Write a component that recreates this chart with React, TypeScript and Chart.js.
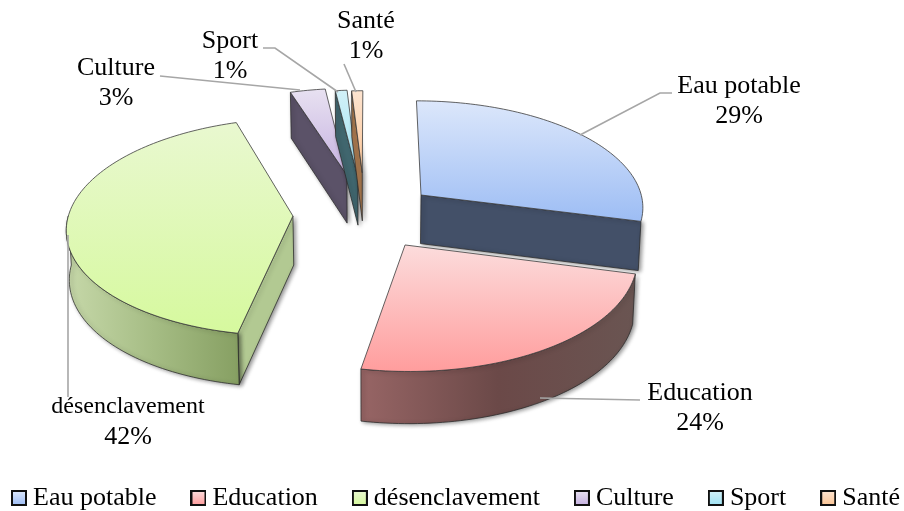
import React, { useEffect, useRef } from "react";
import { Chart, registerables } from "chart.js";

Chart.register(...registerables);

const categories = ["Eau potable", "Education", "désenclavement", "Culture", "Sport", "Santé"];
const shares = [29, 24, 42, 3, 1, 1];

// Exploded position of each slice on the pie plane, in radius units.
const explodeX = [0.2316, 0.152, -0.343, -0.107, -0.056, -0.036];
const explodeY = [-0.171, 0.29, 0.028, -0.368, -0.348, -0.39];
const radiusScale = [1, 1, 1, 0.95, 0.95, 0.9];

const topLight = ["#dce7fb", "#fcdcdc", "#e9f8d0", "#e8e1f1", "#d2f1f8", "#fde4d0"];
const topDark = ["#9dbdf4", "#ff9d9d", "#d6f99e", "#c5b1e0", "#9fe2f3", "#fbc596"];
const rimLeft = ["#46536c", "#976565", "#c6d8a9", "#5f5566", "#41676f", "#a9794f"];
const rimMid = ["#435068", "#6b4948", "#a6bd85", "#5b5268", "#41676f", "#a9794f"];
const rimRight = ["#435068", "#6a5552", "#87a063", "#5b5268", "#41676f", "#a9794f"];
const sideColor = ["#435068", "#6a4a49", "#b2c992", "#5b5268", "#41676f", "#a9794f"];

// Fixed camera of the 3-D view.
const CAMERA = { cx: 370, cy: 213, rx: 224, ry: 107, persp: 0.1, depth: 49, taper: 0.99 };

// Data-label annotations: text centre, size and the leader line.
const labelX = [739, 700, 128, 116, 230, 366];
const labelY = [86, 393, 407, 68, 41, 21];
const labelSize = [26, 26, 24, 26, 26, 26];
const leaderLines = [
  [[580, 135], [660, 93], [672, 93]],
  [[540, 398], [640, 400]],
  [[68, 235], [68, 397]],
  [[160, 76], [300, 90]],
  [[263, 48], [275, 48], [338, 92]],
  [[344, 64], [356, 92]],
];

const FONT = '"Liberation Serif", "Times New Roman", serif';
const LEGEND_START_X = 18;
const LEGEND_SHIFT_Y = 10;
const MIN_RIM_SPAN = 0.3;

function projectPlane(X: number, Y: number) {
  const w = 1 - CAMERA.persp * Y;
  return { x: CAMERA.cx + (CAMERA.rx * X) / w, y: CAMERA.cy + (CAMERA.ry * Y) / w };
}

function sliceProjector(el: any, i: number) {
  const k = radiusScale[i] / el.outerRadius;
  return (px: number, py: number) => projectPlane((px - el.x) * k + explodeX[i], (py - el.y) * k + explodeY[i]);
}

function projectedContext(ctx: any, project: (x: number, y: number) => { x: number; y: number }, fill: any) {
  return new Proxy(ctx, {
    get(t, p) {
      if (p === "moveTo" || p === "lineTo") {
        return (x: number, y: number) => {
          const q = project(x, y);
          t[p](q.x, q.y);
        };
      }
      if (p === "arc") {
        return (x: number, y: number, r: number, a0: number, a1: number) => {
          const n = Math.max(1, Math.ceil(Math.abs(a1 - a0) * 40));
          for (let k = 0; k <= n; k++) {
            const a = a0 + ((a1 - a0) * k) / n;
            const q = project(x + r * Math.cos(a), y + r * Math.sin(a));
            t.lineTo(q.x, q.y);
          }
        };
      }
      const v = t[p];
      return typeof v === "function" ? v.bind(t) : v;
    },
    set(t, p, v) {
      t[p] = p === "fillStyle" ? fill : v;
      return true;
    },
  });
}

function depthAt(Y: number) {
  return CAMERA.depth * (1 + 0.05 * Y);
}

function wallPath(ctx: any, pts: { x: number; y: number; d: number }[]) {
  ctx.beginPath();
  pts.forEach((q, k) => (k ? ctx.lineTo(q.x, q.y) : ctx.moveTo(q.x, q.y)));
  for (let k = pts.length - 1; k >= 0; k--) {
    ctx.lineTo(CAMERA.cx + (pts[k].x - CAMERA.cx) * CAMERA.taper, pts[k].y + pts[k].d);
  }
  ctx.closePath();
}

function drawWalls(ctx: any, el: any, i: number) {
  const s = el.startAngle;
  const e = el.endAngle;
  const plane = (a: number, r: number) => {
    const Y = r * radiusScale[i] * Math.sin(a) + explodeY[i];
    const q = projectPlane(r * radiusScale[i] * Math.cos(a) + explodeX[i], Y);
    return { x: q.x, y: q.y, d: depthAt(Y) };
  };
  ctx.save();
  ctx.shadowColor = "rgba(0,0,0,0.45)";
  ctx.shadowBlur = 4;
  ctx.shadowOffsetX = 2;
  ctx.shadowOffsetY = 1;
  ctx.strokeStyle = "rgba(40,40,40,0.75)";
  ctx.lineWidth = 1;
  const radial = (a: number) => {
    wallPath(ctx, [plane(a, 0), plane(a, 1)]);
    ctx.fillStyle = sideColor[i];
    ctx.fill();
    ctx.stroke();
  };
  // a radial face looks at the viewer only on one side of the pie
  if (Math.cos(s) < -1e-3) radial(s);
  if (Math.cos(e) > 1e-3) radial(e);
  const from = Math.max(s, 0);
  const to = Math.min(e, Math.PI);
  if (to - from > MIN_RIM_SPAN) {
    const pts: { x: number; y: number; d: number }[] = [];
    const n = Math.ceil((to - from) * 40);
    for (let k = 0; k <= n; k++) pts.push(plane(from + ((to - from) * k) / n, 1));
    const xs = pts.map((q) => q.x);
    const g = ctx.createLinearGradient(Math.min(...xs), 0, Math.max(...xs), 0);
    g.addColorStop(0, rimLeft[i]);
    g.addColorStop(0.5, rimMid[i]);
    g.addColorStop(1, rimRight[i]);
    wallPath(ctx, pts);
    ctx.fillStyle = g;
    ctx.fill();
    ctx.stroke();
  }
  ctx.restore();
}

function topGradient(ctx: any, el: any, i: number) {
  const project = sliceProjector(el, i);
  const ys = [project(el.x, el.y).y];
  const n = 40;
  for (let k = 0; k <= n; k++) {
    const a = el.startAngle + ((el.endAngle - el.startAngle) * k) / n;
    ys.push(project(el.x + el.outerRadius * Math.cos(a), el.y + el.outerRadius * Math.sin(a)).y);
  }
  const g = ctx.createLinearGradient(0, Math.min(...ys), 0, Math.max(...ys));
  g.addColorStop(0, topLight[i]);
  g.addColorStop(1, topDark[i]);
  return g;
}

const pie3d = {
  id: "pie3d",
  beforeLayout(chart: any) {
    // the legend is as wide as the window: keep it on one row
    const legend = chart.legend;
    if (legend && !legend.__oneRow) {
      legend.__oneRow = true;
      const fit = legend._fitRows.bind(legend);
      legend._fitRows = (...args: any[]) => {
        const keep = legend.maxWidth;
        legend.maxWidth = 2000;
        const h = fit(...args);
        legend.maxWidth = keep;
        return h;
      };
    }
  },
  afterLayout(chart: any) {
    const legend = chart.legend;
    if (!legend) return;
    const padding = legend.options.labels.padding;
    legend.left = -60;
    legend.right = 2 * LEGEND_START_X - padding - legend.left + legend.lineWidths[0];
    legend.top += LEGEND_SHIFT_Y;
    legend.bottom += LEGEND_SHIFT_Y;
  },
  beforeDatasetDraw(chart: any, args: any) {
    const ctx = chart.ctx;
    const arcs = args.meta.data;
    arcs.forEach((el: any, i: number) => {
      drawWalls(ctx, el, i);
      el.draw(projectedContext(ctx, sliceProjector(el, i), topGradient(ctx, el, i)));
    });
    return false;
  },
  afterDraw(chart: any) {
    const ctx = chart.ctx;
    ctx.save();
    ctx.strokeStyle = "#a6a6a6";
    ctx.lineWidth = 1.6;
    leaderLines.forEach((line) => {
      ctx.beginPath();
      line.forEach((pt, k) => (k ? ctx.lineTo(pt[0], pt[1]) : ctx.moveTo(pt[0], pt[1])));
      ctx.stroke();
    });
    ctx.fillStyle = "#000";
    ctx.textAlign = "center";
    ctx.textBaseline = "middle";
    categories.forEach((name, i) => {
      ctx.font = `${labelSize[i]}px ${FONT}`;
      ctx.fillText(name, labelX[i], labelY[i]);
      ctx.font = `26px ${FONT}`;
      ctx.fillText(`${shares[i]}%`, labelX[i], labelY[i] + 30);
    });
    ctx.restore();
  },
};

function legendMarker(i: number) {
  const c = document.createElement("canvas");
  c.width = 16;
  c.height = 16;
  const m = c.getContext("2d") as CanvasRenderingContext2D;
  const g = m.createLinearGradient(0, 1, 0, 15);
  g.addColorStop(0, topLight[i]);
  g.addColorStop(1, topDark[i]);
  m.fillStyle = g;
  m.fillRect(1, 1, 14, 14);
  m.strokeStyle = "#111";
  m.lineWidth = 2;
  m.strokeRect(1, 1, 14, 14);
  return c;
}

export default function App() {
  const ref = useRef<HTMLCanvasElement | null>(null);
  useEffect(() => {
    const canvas = ref.current as HTMLCanvasElement;
    const chart = new Chart(canvas, {
      type: "pie",
      data: {
        labels: categories,
        datasets: [
          {
            data: shares,
            backgroundColor: topDark,
            borderColor: "rgba(60,60,60,0.8)",
            borderWidth: 1,
            hoverOffset: 0,
          },
        ],
      },
      options: {
        responsive: false,
        animation: false,
        events: [],
        layout: { padding: 0 },
        plugins: {
          tooltip: { enabled: false },
          legend: {
            position: "bottom",
            labels: {
              color: "#000",
              font: { family: FONT, size: 26 },
              usePointStyle: true,
              pointStyleWidth: 2,
              padding: 41,
              generateLabels: () =>
                categories.map((text, index) => ({
                  text,
                  index,
                  hidden: false,
                  pointStyle: legendMarker(index),
                  lineWidth: 0,
                })),
            },
          },
        },
      },
      plugins: [pie3d],
    } as any);
    return () => chart.destroy();
  }, []);
  return (
    <div style={{ position: "absolute", left: 0, top: 0, width: 904, height: 511, background: "#fff" }}>
      <canvas ref={ref} width={904} height={511} style={{ display: "block" }} />
    </div>
  );
}
